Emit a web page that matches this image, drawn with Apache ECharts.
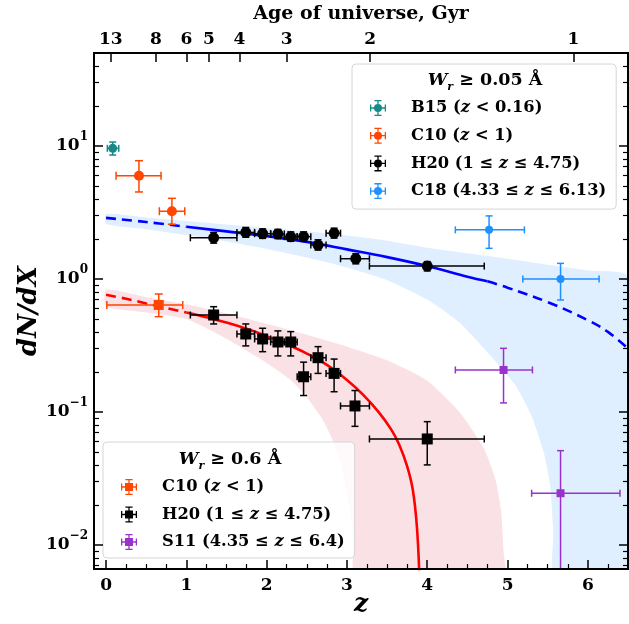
<!DOCTYPE html>
<html>
<head>
<meta charset="utf-8">
<script src="https://cdn.jsdelivr.net/npm/echarts@6/dist/echarts.min.js"></script>
<style>
html, body { margin: 0; padding: 0; background: #fff; }
#chart { width: 629px; height: 624px; }
</style>
</head>
<body>
<div id="chart"></div>
<script>
// axis ticks
const zTicks = [0, 1, 2, 3, 4, 5, 6]
const zMinorTicks = [0.25, 0.5, 0.75, 1.25, 1.5, 1.75, 2.25, 2.5, 2.75, 3.25, 3.5, 3.75, 4.25, 4.5, 4.75, 5.25, 5.5, 5.75, 6.25]
const ageZ = [0.06, 0.62, 1.0, 1.28, 1.66, 2.25, 3.29, 5.82]
const ageLabels = ['13', '8', '6', '5', '4', '3', '2', '1']
const yTicks = [0.01, 0.1, 1, 10]
const yMinorTicks = [0.007, 0.008, 0.009, 0.02, 0.03, 0.04, 0.05, 0.06, 0.07, 0.08, 0.09,
  0.2, 0.3, 0.4, 0.5, 0.6, 0.7, 0.8, 0.9, 2, 3, 4, 5, 6, 7, 8, 9, 20, 30, 40]

// points: [z, dN/dX, zLow, zHigh, dNdXLow, dNdXHigh]
const b15 = [[0.083, 9.6, 0.016, 0.158, 8.55, 10.7]]
const c10Weak = [
  [0.41, 5.98, 0.125, 0.685, 4.51, 7.75],
  [0.82, 3.23, 0.664, 0.98, 2.58, 4.04],
]
const h20Weak = [
  [1.34, 2.04, 1.05, 1.63, 1.86, 2.24],
  [1.74, 2.24, 1.63, 1.85, 2.06, 2.44],
  [1.95, 2.19, 1.85, 2.05, 2.02, 2.38],
  [2.14, 2.18, 2.05, 2.22, 2.01, 2.36],
  [2.30, 2.08, 2.22, 2.38, 1.92, 2.26],
  [2.46, 2.08, 2.38, 2.55, 1.92, 2.26],
  [2.64, 1.80, 2.55, 2.74, 1.65, 1.97],
  [2.84, 2.21, 2.74, 2.92, 2.03, 2.41],
  [3.11, 1.42, 2.92, 3.28, 1.30, 1.55],
  [4.00, 1.25, 3.28, 4.71, 1.15, 1.35],
]
const c18 = [
  [4.77, 2.34, 4.35, 5.21, 1.70, 2.98],
  [5.66, 1.00, 5.19, 6.14, 0.695, 1.31],
]
const c10Strong = [[0.656, 0.638, 0.01, 0.955, 0.521, 0.771]]
const h20Strong = [
  [1.34, 0.536, 1.05, 1.63, 0.459, 0.619],
  [1.74, 0.386, 1.63, 1.85, 0.314, 0.459],
  [1.95, 0.354, 1.85, 2.05, 0.284, 0.426],
  [2.14, 0.336, 2.05, 2.22, 0.264, 0.407],
  [2.30, 0.336, 2.22, 2.38, 0.264, 0.402],
  [2.46, 0.184, 2.38, 2.55, 0.133, 0.237],
  [2.64, 0.256, 2.55, 2.74, 0.195, 0.310],
  [2.84, 0.195, 2.74, 2.92, 0.142, 0.250],
  [3.10, 0.111, 2.92, 3.28, 0.078, 0.145],
  [4.00, 0.0627, 3.28, 4.71, 0.040, 0.0846],
]
const s11 = [
  [4.95, 0.207, 4.35, 5.31, 0.117, 0.301],
  [5.66, 0.0245, 5.30, 6.40, 0.001, 0.0512],
]

// fits
const blueFitZ = [0, 0.5, 1, 1.5, 2, 2.5, 3, 3.5, 4, 4.5, 4.75, 5, 5.5, 6, 6.25, 6.5]
const blueFitV = [2.88, 2.68, 2.47, 2.28, 2.10, 1.90, 1.67, 1.46, 1.25, 1.04, 0.96, 0.86, 0.67, 0.49, 0.40, 0.30]
const redFitZ = [0, 0.25, 0.5, 0.75, 1, 1.25, 1.5, 1.75, 2, 2.25, 2.5, 2.75, 3, 3.2, 3.4, 3.55, 3.65, 3.75, 3.82, 3.87, 3.9]
const redFitV = [0.76, 0.71, 0.655, 0.605, 0.56, 0.515, 0.47, 0.422, 0.372, 0.323, 0.275, 0.226, 0.174, 0.135, 0.099, 0.074, 0.057, 0.039, 0.026, 0.014, 0.0063]

// bands
const blueUpZ = [0, 0.5, 1, 1.5, 2, 2.5, 3, 3.5, 4, 4.5, 5, 5.5, 6, 6.5]
const blueUpV = [3.08, 2.90, 2.73, 2.57, 2.42, 2.27, 2.12, 1.94, 1.72, 1.56, 1.42, 1.28, 1.16, 1.04]
const blueLowZ = [0, 0.5, 1, 1.5, 2, 2.5, 3, 3.5, 4, 4.4, 4.8, 5.1, 5.3, 5.45, 5.53, 5.57, 5.59, 6.5]
const blueLowV = [2.59, 2.37, 2.14, 1.91, 1.68, 1.45, 1.22, 0.98, 0.70, 0.47, 0.26, 0.158, 0.093, 0.050, 0.028, 0.0126, 0.005, 0.004]
const redUpZ = [0, 0.5, 1, 1.5, 2, 2.5, 3, 3.5, 4, 4.4, 4.7, 4.85, 4.92, 4.95, 4.97]
const redUpV = [0.83, 0.73, 0.645, 0.55, 0.46, 0.38, 0.31, 0.245, 0.172, 0.10, 0.054, 0.031, 0.018, 0.009, 0.004]
const redLowZ = [0, 0.5, 1, 1.5, 2, 2.3, 2.5, 2.7, 2.85, 2.95, 3.03, 3.08, 3.12]
const redLowV = [0.62, 0.56, 0.50, 0.355, 0.234, 0.174, 0.129, 0.087, 0.056, 0.035, 0.020, 0.011, 0.005]

const weakNames = ['B15', 'C10w', 'H20w', 'C18']
const weakLabels = ['B15 (', 'C10 (', 'H20 (1 ≤ ', 'C18 (4.33 ≤ ']
const weakTails = [' < 0.16)', ' < 1)', ' ≤ 4.75)', ' ≤ 6.13)']
const strongNames = ['C10s', 'H20s', 'S11']
const strongLabels = ['C10 (', 'H20 (1 ≤ ', 'S11 (4.35 ≤ ']
const strongTails = [' < 1)', ' ≤ 4.75)', ' ≤ 6.4)']

const serif = 'DejaVu Serif'
const iconCircle = 'path://M0 9.2H20V10.8H0ZM9.2 0H10.8V20H9.2ZM0 5.5H1.6V14.5H0ZM18.4 5.5H20V14.5H18.4ZM5.5 0H14.5V1.6H5.5ZM5.5 18.4H14.5V20H5.5ZM10 5A5 5 0 1 1 9.99 5Z'
const iconSquare = 'path://M0 9.2H20V10.8H0ZM9.2 0H10.8V20H9.2ZM0 5.5H1.6V14.5H0ZM18.4 5.5H20V14.5H18.4ZM5.5 0H14.5V1.6H5.5ZM5.5 18.4H14.5V20H5.5ZM5 5H15V15H5Z'

const errorBar = (shape, size, cap, lw) => (params, api) => {
  const z = api.value(0)
  const v = api.value(1)
  const c = api.coord([z, v])
  const l = api.coord([api.value(2), v])
  const r = api.coord([api.value(3), v])
  const lo = api.coord([z, api.value(4)])
  const hi = api.coord([z, api.value(5)])
  const style = { stroke: api.visual('color'), lineWidth: lw, fill: null }
  const children = [
    { type: 'line', shape: { x1: l[0], y1: c[1], x2: r[0], y2: c[1] }, style },
    { type: 'line', shape: { x1: c[0], y1: lo[1], x2: c[0], y2: hi[1] }, style },
    { type: 'line', shape: { x1: l[0], y1: c[1] - cap, x2: l[0], y2: c[1] + cap }, style },
    { type: 'line', shape: { x1: r[0], y1: c[1] - cap, x2: r[0], y2: c[1] + cap }, style },
    { type: 'line', shape: { x1: c[0] - cap, y1: lo[1], x2: c[0] + cap, y2: lo[1] }, style },
    { type: 'line', shape: { x1: c[0] - cap, y1: hi[1], x2: c[0] + cap, y2: hi[1] }, style },
  ]
  if (shape === 'circle') {
    children.push({ type: 'circle', shape: { cx: c[0], cy: c[1], r: size }, style: { fill: api.visual('color') } })
  } else {
    children.push({ type: 'rect', shape: { x: c[0] - size, y: c[1] - size, width: 2 * size, height: 2 * size }, style: { fill: api.visual('color') } })
  }
  return { type: 'group', children }
}

const band = (upZ, upV, lowZ, lowV, fill) => (params, api) => {
  const pts = upZ.map((z, i) => api.coord([z, upV[i]]))
  for (let i = lowZ.length - 1; i >= 0; i--) pts.push(api.coord([lowZ[i], lowV[i]]))
  return { type: 'polygon', shape: { points: pts, smooth: 0.2 }, style: { fill } }
}

const pointSeries = (name, data, color, shape, size, cap, lw) => ({
  name,
  type: 'custom',
  data,
  clip: true,
  z: 4,
  itemStyle: { color },
  renderItem: errorBar(shape, size, cap, lw),
})

const fitSeries = (zs, vs, from, to, color, dashed) => ({
  type: 'line',
  data: zs.map((z, i) => [z, vs[i]]).filter((p) => p[0] >= from && p[0] <= to),
  showSymbol: false,
  smooth: 0.4,
  clip: true,
  z: 3,
  lineStyle: { color, width: 2.6, type: dashed ? [10, 6] : 'solid' },
})

const legendRich = {
  g: { width: 20 },
  t: { fontFamily: serif, fontWeight: 'bold', fontSize: 16.3, color: '#000' },
  i: { fontFamily: serif, fontWeight: 'bold', fontStyle: 'italic', fontSize: 16.3, color: '#000' },
}
const legendBox = {
  orient: 'vertical',
  itemWidth: 16,
  itemHeight: 16,
  selectedMode: false,
  backgroundColor: 'rgba(255,255,255,0.8)',
  borderColor: '#d6d6d6',
  borderWidth: 1,
  borderRadius: 4,
  textStyle: { rich: legendRich },
}
const legendTitleRich = {
  i: { fontFamily: serif, fontWeight: 'bold', fontStyle: 'italic', fontSize: 17.5, lineHeight: 26 },
  s: { fontFamily: serif, fontWeight: 'bold', fontStyle: 'italic', fontSize: 11, lineHeight: 12, verticalAlign: 'bottom' },
  t: { fontFamily: serif, fontWeight: 'bold', fontSize: 17.5, lineHeight: 26 },
}

const tickFont = { fontFamily: serif, fontWeight: 'bold', fontSize: 17, color: '#000' }
const axisLine = { show: true, onZero: false, lineStyle: { color: '#000', width: 2 } }
// ticks point into the plot: negative length
const majorTick = { show: true, inside: false, length: -9, lineStyle: { color: '#000', width: 1.5 } }
const minorTick = { show: true, inside: false, length: -5, lineStyle: { color: '#000', width: 1.2 } }

const xAxisBase = { type: 'value', min: -0.15, max: 6.5, splitLine: { show: false }, axisLine, nameMoveOverlap: false, z: 6 }
const yAxisBase = { type: 'log', min: 0.0066, max: 50, splitLine: { show: false }, axisLine, nameMoveOverlap: false, z: 6 }

const chart = echarts.init(document.getElementById('chart'))
chart.setOption({
  animation: false,
  grid: { left: 94, right: 1, top: 53, bottom: 55, containLabel: false, outerBoundsMode: 'none' },
  xAxis: [
    {
      ...xAxisBase,
      position: 'bottom',
      name: 'z',
      nameLocation: 'middle',
      nameGap: 23,
      nameTextStyle: { fontFamily: serif, fontWeight: 'bold', fontStyle: 'italic', fontSize: 25, color: '#000' },
      axisTick: { ...majorTick, customValues: zTicks },
      axisLabel: { ...tickFont, margin: 8, customValues: zTicks },
    },
    {
      ...xAxisBase,
      position: 'bottom',
      axisTick: { ...minorTick, customValues: zMinorTicks },
      axisLabel: { show: false },
    },
    {
      ...xAxisBase,
      position: 'top',
      name: 'Age of universe, Gyr',
      nameLocation: 'middle',
      nameGap: 29,
      nameTextStyle: { fontFamily: serif, fontWeight: 'bold', fontSize: 19, color: '#000' },
      axisTick: { ...majorTick, customValues: ageZ },
      axisLabel: {
        ...tickFont,
        margin: 5,
        customValues: ageZ,
        formatter: (v) => ageLabels[ageZ.indexOf(v)],
      },
    },
  ],
  yAxis: [
    {
      ...yAxisBase,
      position: 'left',
      name: 'dN/dX',
      nameLocation: 'middle',
      nameRotate: 90,
      nameGap: 52,
      nameTextStyle: { fontFamily: serif, fontWeight: 'bold', fontStyle: 'italic', fontSize: 26, color: '#000' },
      axisTick: { ...majorTick, customValues: yTicks },
      axisLabel: {
        margin: 6,
        customValues: yTicks,
        formatter: (v) => {
          const e = Math.round(Math.log10(v))
          return '{b|10}{s|' + (e < 0 ? '−' + -e : e) + '}'
        },
        rich: {
          b: { ...tickFont, lineHeight: 30 },
          s: { fontFamily: serif, fontWeight: 'bold', fontSize: 12, color: '#000', verticalAlign: 'top', lineHeight: 14 },
        },
      },
    },
    {
      ...yAxisBase,
      position: 'left',
      axisTick: { ...minorTick, customValues: yMinorTicks },
      axisLabel: { show: false },
    },
    {
      ...yAxisBase,
      position: 'right',
      axisTick: { ...majorTick, customValues: yTicks },
      axisLabel: { show: false },
    },
    {
      ...yAxisBase,
      position: 'right',
      axisTick: { ...minorTick, customValues: yMinorTicks },
      axisLabel: { show: false },
    },
  ],
  legend: [
    {
      ...legendBox,
      left: 352,
      top: 64,
      padding: [36, 10, 10, 18],
      itemGap: 11.7,
      data: weakNames.map((n) => ({ name: n, icon: iconCircle })),
      formatter: (name) => {
        const i = weakNames.indexOf(name)
        return '{g|}{t|' + weakLabels[i] + '}{i|z}{t|' + weakTails[i] + '}'
      },
    },
    {
      ...legendBox,
      left: 103,
      top: 442,
      padding: [37, 10, 8, 18],
      itemGap: 11.5,
      data: strongNames.map((n) => ({ name: n, icon: iconSquare })),
      formatter: (name) => {
        const i = strongNames.indexOf(name)
        return '{g|}{t|' + strongLabels[i] + '}{i|z}{t|' + strongTails[i] + '}'
      },
    },
  ],
  graphic: [
    {
      type: 'text',
      x: 485,
      y: 80,
      z: 20,
      style: { text: '{i|W}{s|r}{t| ≥ 0.05 Å}', textAlign: 'center', textVerticalAlign: 'middle', rich: legendTitleRich },
    },
    {
      type: 'text',
      x: 230,
      y: 459,
      z: 20,
      style: { text: '{i|W}{s|r}{t| ≥ 0.6 Å}', textAlign: 'center', textVerticalAlign: 'middle', rich: legendTitleRich },
    },
  ],
  series: [
    { type: 'custom', data: [[0]], clip: true, z: 1, silent: true, renderItem: band(blueUpZ, blueUpV, blueLowZ, blueLowV, 'rgba(30,144,255,0.14)') },
    { type: 'custom', data: [[0]], clip: true, z: 1, silent: true, renderItem: band(redUpZ, redUpV, redLowZ, redLowV, 'rgba(220,20,60,0.13)') },
    fitSeries(blueFitZ, blueFitV, 0, 1, '#0000ff', true),
    fitSeries(blueFitZ, blueFitV, 1, 4.75, '#0000ff', false),
    fitSeries(blueFitZ, blueFitV, 4.75, 6.5, '#0000ff', true),
    fitSeries(redFitZ, redFitV, 0, 1, '#ff0000', true),
    fitSeries(redFitZ, redFitV, 1, 4, '#ff0000', false),
    pointSeries('B15', b15, '#168a88', 'circle', 4.5, 3.5, 1.5),
    pointSeries('C10w', c10Weak, '#ff4500', 'circle', 5, 4, 1.5),
    pointSeries('H20w', h20Weak, '#000000', 'circle', 5.5, 3.5, 1.5),
    pointSeries('C18', c18, '#1e90ff', 'circle', 4, 3.5, 1.5),
    pointSeries('C10s', c10Strong, '#ff4500', 'square', 5, 4, 1.5),
    pointSeries('H20s', h20Strong, '#000000', 'square', 5.5, 3.5, 1.5),
    pointSeries('S11', s11, '#9932cc', 'square', 4, 3.5, 1.5),
  ],
})
</script>
</body>
</html>
